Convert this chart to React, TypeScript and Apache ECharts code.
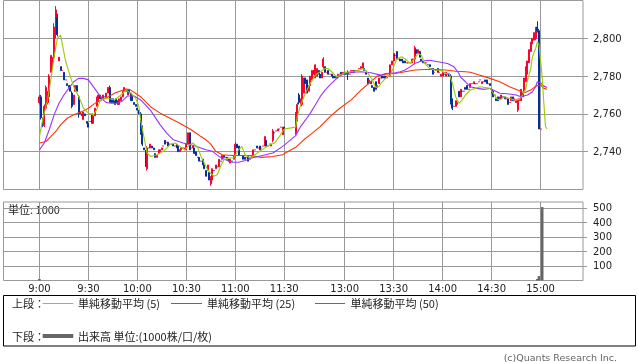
import React, { useEffect, useRef } from "react";
import * as echarts from "echarts";

// ---- axis scaffolding (minute slots; 9:00 = slot 0, 12:30 = slot 157) ----
const SLOT_MIN = -22;
const SLOT_MAX = 333;
const tickSlots = [0, 30, 60, 90, 120, 150, 187, 217, 247, 277, 307];
const tickLabels = ["9:00", "9:30", "10:00", "10:30", "11:00", "11:30", "13:00", "13:30", "14:00", "14:30", "15:00"];
const priceTicks = [2740, 2760, 2780, 2800];
const volumeTicks = [100, 200, 300, 400, 500];

// ---- morning candles, slots 0..150 ----
const amOpen = [
  2766, 2769, 2757, 2754, 2763, 2766, 2769, 2782, 2784, 2790, 2802, 2811, 2788, 2785, 2783, 2782, 2778, 2776, 2775, 2775,
  2771, 2765, 2772, 2775, 2769, 2761, 2760, 2757, 2760, 2756, 2755, 2756, 2760, 2755, 2759, 2764, 2767, 2770, 2769, 2768,
  2769, 2769, 2771, 2774, 2768, 2768, 2767, 2768, 2767, 2765, 2767, 2769, 2772, 2773, 2770, 2773, 2771, 2770, 2766, 2765,
  2763, 2762, 2760, 2753, 2742, 2740, 2731, 2742, 2742, 2743, 2742, 2739, 2737, 2739, 2740, 2741, 2743, 2746, 2745, 2745,
  2744, 2744, 2744, 2743, 2744, 2743, 2740, 2741, 2742, 2741, 2741, 2744, 2750, 2742, 2742, 2742, 2740, 2737, 2737, 2735,
  2736, 2733, 2730, 2730, 2729, 2723, 2725, 2730, 2731, 2732, 2732, 2735, 2736, 2738, 2737, 2737, 2736, 2734, 2735, 2736,
  2738, 2744, 2743, 2738, 2738, 2738, 2737, 2737, 2738, 2736, 2737, 2738, 2741, 2743, 2742, 2743, 2742, 2743, 2743, 2746,
  2743, 2744, 2743, 2746, 2750, 2751, 2751, 2752, 2753, 2749, 2753,
];
const amClose = [
  2769, 2758, 2754, 2764, 2774, 2771, 2780, 2791, 2790, 2806, 2815, 2802, 2790, 2783, 2783, 2778, 2778, 2775, 2774, 2772,
  2764, 2770, 2775, 2772, 2760, 2760, 2759, 2761, 2759, 2755, 2753, 2756, 2755, 2759, 2763, 2769, 2770, 2768, 2768, 2770,
  2769, 2771, 2774, 2767, 2766, 2766, 2765, 2766, 2765, 2768, 2769, 2772, 2774, 2772, 2773, 2771, 2767, 2767, 2765, 2764,
  2762, 2760, 2750, 2744, 2741, 2733, 2742, 2742, 2744, 2742, 2741, 2737, 2738, 2741, 2741, 2742, 2743, 2744, 2745, 2743,
  2744, 2744, 2743, 2743, 2742, 2740, 2741, 2742, 2742, 2742, 2744, 2750, 2741, 2742, 2743, 2739, 2738, 2737, 2735, 2735,
  2733, 2731, 2727, 2733, 2725, 2726, 2731, 2730, 2733, 2732, 2736, 2735, 2738, 2737, 2737, 2736, 2735, 2736, 2735, 2738,
  2744, 2742, 2738, 2738, 2738, 2736, 2736, 2737, 2735, 2736, 2738, 2741, 2741, 2742, 2742, 2741, 2742, 2743, 2748, 2743,
  2743, 2744, 2744, 2751, 2750, 2751, 2752, 2752, 2753, 2753, 2752,
];

// ---- afternoon candles, slots 157..307 ----
const pmOpen = [
  2750, 2757, 2770, 2765, 2765, 2771, 2779, 2778, 2772, 2775, 2778, 2783, 2779, 2780, 2783, 2781, 2779, 2785, 2785, 2782,
  2783, 2781, 2781, 2780, 2780, 2779, 2780, 2781, 2782, 2781, 2782, 2782, 2782, 2781, 2782, 2782, 2783, 2783, 2783, 2784,
  2784, 2784, 2784, 2782, 2779, 2777, 2777, 2775, 2774, 2777, 2774, 2776, 2779, 2780, 2780, 2780, 2779, 2780, 2780, 2786,
  2788, 2791, 2793, 2789, 2789, 2789, 2788, 2788, 2787, 2787, 2787, 2787, 2789, 2789, 2794, 2792, 2793, 2789, 2788, 2787,
  2787, 2786, 2786, 2784, 2784, 2782, 2783, 2784, 2782, 2780, 2780, 2781, 2780, 2781, 2781, 2780, 2768, 2764, 2764, 2765,
  2772, 2769, 2772, 2772, 2774, 2775, 2773, 2774, 2776, 2776, 2776, 2776, 2777, 2778, 2776, 2777, 2778, 2778, 2776, 2776,
  2773, 2772, 2770, 2768, 2769, 2768, 2768, 2769, 2769, 2768, 2768, 2766, 2767, 2769, 2767, 2766, 2762, 2767, 2767, 2771,
  2772, 2777, 2781, 2787, 2793, 2797, 2799, 2800, 2806, 2804, 2752,
];
const pmClose = [
  2760, 2765, 2766, 2768, 2780, 2779, 2776, 2771, 2775, 2780, 2783, 2781, 2786, 2784, 2781, 2779, 2782, 2789, 2782, 2782,
  2781, 2781, 2780, 2779, 2779, 2780, 2781, 2781, 2781, 2782, 2781, 2781, 2781, 2781, 2783, 2783, 2782, 2783, 2783, 2784,
  2785, 2787, 2783, 2781, 2776, 2778, 2776, 2774, 2772, 2773, 2775, 2779, 2779, 2779, 2779, 2779, 2780, 2780, 2786, 2788,
  2792, 2791, 2789, 2789, 2788, 2788, 2787, 2787, 2787, 2787, 2787, 2789, 2789, 2795, 2792, 2794, 2790, 2788, 2787, 2787,
  2787, 2786, 2785, 2784, 2781, 2782, 2783, 2782, 2782, 2781, 2782, 2781, 2782, 2781, 2780, 2766, 2763, 2764, 2767, 2766,
  2769, 2773, 2772, 2772, 2773, 2773, 2773, 2776, 2776, 2777, 2776, 2776, 2777, 2778, 2777, 2777, 2777, 2776, 2776, 2775,
  2771, 2769, 2770, 2767, 2767, 2769, 2770, 2769, 2768, 2768, 2765, 2766, 2769, 2767, 2768, 2767, 2767, 2768, 2773, 2769,
  2779, 2785, 2788, 2794, 2798, 2800, 2803, 2805, 2804, 2752, 2752,
];

// wicks that reach beyond the body: [slot, low, high]
const wicks: [number, number, number][] = [
  [0, 2765, 2770], [1, 2757, 2770], [2, 2753, 2758], [3, 2753, 2765], [4, 2762, 2775], [5, 2765, 2772],
  [6, 2768, 2781], [9, 2789, 2808], [10, 2800, 2817], [11, 2801, 2813], [20, 2763, 2772], [24, 2758, 2770],
  [43, 2766, 2775], [62, 2749, 2761], [63, 2743, 2754], [65, 2732, 2741], [66, 2730, 2743], [105, 2722, 2727],
  [120, 2737, 2745], [143, 2745, 2752], [157, 2749, 2761], [158, 2756, 2766], [159, 2765, 2771], [161, 2764, 2781],
  [174, 2784, 2790], [189, 2778, 2783], [230, 2787, 2796], [252, 2765, 2781], [253, 2762, 2768], [293, 2761, 2768],
  [304, 2799, 2806], [305, 2803, 2809], [306, 2752, 2805],
];

// ---- moving averages (slot, value) ----
const ma5Slots = [0, 2, 4, 5, 7, 9, 11, 13, 14, 16, 19, 21, 23, 25, 27, 30, 33, 35, 37, 39, 43, 46, 50, 53, 56, 59, 61, 62, 64, 66, 68, 72, 76, 80, 83, 86, 89, 92, 94, 97, 99, 101, 103, 105, 107, 109, 111, 113, 116, 119, 122, 124, 126, 129, 132, 135, 138, 141, 144, 147, 150, 157, 158, 160, 163, 166, 169, 172, 175, 177, 179, 182, 184, 187, 190, 195, 198, 200, 202, 204, 206, 208, 210, 213, 215, 217, 219, 222, 225, 227, 229, 232, 234, 236, 239, 242, 246, 249, 251, 253, 255, 257, 259, 261, 264, 267, 270, 273, 276, 278, 280, 282, 285, 288, 291, 294, 296, 298, 299, 301, 302, 304, 305, 306, 308, 309, 310, 311];
const ma5Values = [2748, 2757, 2764, 2767.4, 2778, 2790, 2800, 2801.6, 2797, 2788, 2779.6, 2774.4, 2771, 2767.4, 2763, 2760.4, 2759.5, 2762, 2766.5, 2768, 2768, 2767.4, 2770, 2772.6, 2771, 2768.2, 2763.8, 2756.8, 2748, 2739.3, 2737.5, 2738.4, 2740.2, 2743.7, 2744.6, 2742.8, 2741, 2743.7, 2744.6, 2742.2, 2737.5, 2734, 2730.5, 2728.5, 2727, 2727.9, 2732.3, 2735.8, 2736.7, 2736.7, 2741, 2742.8, 2738.4, 2736.7, 2738.4, 2740.2, 2742, 2743.7, 2744.6, 2748, 2752, 2753, 2758.6, 2764.7, 2770.9, 2776.2, 2780.5, 2782.3, 2784, 2784, 2782.3, 2779.6, 2780.5, 2781.8, 2782.3, 2782.8, 2784, 2783, 2780.5, 2777.9, 2774, 2774.5, 2777, 2779.6, 2780.5, 2784.9, 2789.3, 2790.2, 2788.4, 2786.7, 2788.4, 2792, 2791, 2786.7, 2784, 2783.2, 2783, 2781.4, 2781.4, 2776.2, 2769.1, 2765.6, 2767.4, 2770, 2772.6, 2773.5, 2774.4, 2774, 2773.5, 2771, 2768.2, 2767.4, 2769.1, 2768.2, 2767.4, 2767.7, 2770, 2773.5, 2777.9, 2784, 2790.2, 2794.6, 2798, 2797, 2779.6, 2765.6, 2753.3, 2752];

const ma25Slots = [0, 3, 6, 9, 12, 15, 18, 21, 24, 27, 30, 33, 36, 39, 41, 44, 48, 51, 54, 58, 62, 68, 74, 78, 82, 88, 93, 99, 102, 106, 110, 114, 118, 122, 126, 130, 136, 143, 149, 150, 157, 160, 163, 166, 169, 172, 175, 178, 181, 184, 187, 192, 197, 203, 209, 212, 218, 221, 224, 227, 230, 234, 239, 245, 250, 254, 257, 258, 261, 264, 268, 273, 276, 278, 282, 288, 292, 295, 299, 302, 304, 305, 307, 309, 311];
const ma25Values = [2741, 2744.6, 2751.6, 2759.5, 2765.6, 2770, 2773.5, 2777, 2778.8, 2778.8, 2778, 2774.4, 2770.9, 2767.4, 2766, 2765.6, 2765.6, 2767, 2769.5, 2769.5, 2767.4, 2762, 2754.2, 2749.8, 2746.3, 2744.6, 2743.7, 2742, 2741, 2740.2, 2737.5, 2735.8, 2734.4, 2734.4, 2735.3, 2736.7, 2737.9, 2739.3, 2742.8, 2743.5, 2748.5, 2753.3, 2756.8, 2760.4, 2764.7, 2769.1, 2772.6, 2775.3, 2777.9, 2780, 2781.4, 2782, 2782.3, 2781.8, 2780.5, 2781.4, 2781.8, 2782.3, 2783.2, 2784.9, 2786.7, 2788, 2788.4, 2787.5, 2786.7, 2784.9, 2781.4, 2779.5, 2777, 2774.4, 2773.5, 2773, 2773.5, 2772.6, 2770.9, 2770.5, 2770, 2769.1, 2770, 2771.7, 2774.4, 2777, 2776.5, 2774.7, 2774];

const ma50Slots = [0, 4, 7, 10, 13, 17, 21, 26, 30, 34, 38, 42, 46, 50, 53, 56, 62, 68, 74, 80, 86, 93, 99, 102, 105, 108, 112, 118, 124, 130, 136, 143, 149, 150, 157, 162, 166, 172, 178, 184, 191, 197, 203, 207, 212, 218, 224, 230, 236, 243, 249, 255, 261, 264, 270, 276, 282, 288, 293, 297, 301, 304, 307, 309, 311];
const ma50Values = [2744.6, 2745.4, 2748, 2750.7, 2754.2, 2757.7, 2759.5, 2761.2, 2763, 2765.6, 2767.4, 2769, 2770.9, 2772.3, 2773.2, 2772.6, 2769.1, 2763.8, 2760.4, 2757.7, 2755, 2751.6, 2748, 2746.3, 2744, 2740.2, 2738.4, 2738, 2738, 2737.9, 2737, 2737.5, 2738.4, 2739, 2742.3, 2746.3, 2749, 2753.3, 2758.6, 2763, 2767.4, 2772.6, 2777, 2780, 2781, 2781.4, 2782.3, 2783.2, 2783.5, 2783.5, 2783.2, 2782.6, 2782.3, 2782, 2780.5, 2778.8, 2777, 2774.4, 2772.6, 2771.2, 2772.6, 2774.7, 2775.3, 2773.5, 2773];

// ---- volume (1000 shares), visible bars only ----
const volSlots = [0, 305, 306, 308];
const volValues = [10, 10, 30, 505];

const RED = "#ff0033";
const BLUE = "#003399";
const GREEN = "#99cc00";
const PURPLE = "#9933ff";
const ORANGE = "#ff3300";
const GRID = "#999999";
const VOL = "#666666";

export default function App() {
  const ref = useRef<HTMLDivElement>(null);

  useEffect(() => {
    if (!ref.current) return;
    const chart = echarts.init(ref.current, undefined, { renderer: "svg" });

    const N = SLOT_MAX - SLOT_MIN + 1;
    const idx = (s: number) => s - SLOT_MIN;
    const categories = Array.from({ length: N }, (_, k) => String(k + SLOT_MIN));
    const tickIdx = new Set(tickSlots.map(idx));
    const labelMap = new Map<number, string>();
    tickSlots.forEach((s, i) => labelMap.set(s, tickLabels[i]));

    const candleData: any[] = new Array(N).fill("-");
    const put = (start: number, opens: number[], closes: number[]) => {
      opens.forEach((o, i) => {
        const c = closes[i];
        candleData[idx(start + i)] = [o, c, Math.min(o, c), Math.max(o, c)];
      });
    };
    put(0, amOpen, amClose);
    put(157, pmOpen, pmClose);
    wicks.forEach(([s, lo, hi]) => {
      const d = candleData[idx(s)];
      if (Array.isArray(d)) {
        d[2] = lo;
        d[3] = hi;
      }
    });

    const lineData = (slots: number[], values: number[]) => {
      const arr: (number | null)[] = new Array(N).fill(null);
      slots.forEach((s, i) => (arr[idx(s)] = values[i]));
      return arr;
    };

    const volData: any[] = new Array(N).fill("-");
    volSlots.forEach((s, i) => (volData[idx(s)] = volValues[i]));

    const labelStyle = { fontSize: 10, color: "#222", fontFamily: "DejaVu Sans" };
    const cjk = "Noto Sans CJK JP";

    const mkX = (gridIndex: number, showLabel: boolean) => ({
      type: "category",
      gridIndex,
      data: categories,
      boundaryGap: false,
      axisLine: { show: false },
      axisTick: { show: false },
      axisLabel: showLabel
        ? {
            show: true,
            interval: (i: number) => tickIdx.has(i),
            formatter: (v: string) => labelMap.get(Number(v)) ?? "",
            margin: 3,
            ...labelStyle,
          }
        : { show: false },
      splitLine: {
        show: true,
        interval: (i: number) => tickIdx.has(i),
        lineStyle: { color: GRID, width: 1 },
      },
    });

    const legendText = (x: number, y: number, text: string) => ({
      type: "text",
      x,
      y,
      style: { text, fontSize: 11, fontFamily: cjk, fill: "#222", verticalAlign: "middle" },
    });
    const legendLine = (x1: number, x2: number, y: number, color: string, w: number) => ({
      type: "line",
      shape: { x1, y1: y, x2, y2: y },
      style: { stroke: color, lineWidth: w },
    });

    chart.setOption({
      animation: false,
      textStyle: { fontFamily: "DejaVu Sans" },
      grid: [
        { left: 3.5, right: 55, top: 0.5, height: 189, show: true, borderColor: GRID, borderWidth: 1 },
        { left: 3.5, right: 55, top: 202, height: 78.5, show: true, borderColor: GRID, borderWidth: 1 },
      ],
      xAxis: [mkX(0, false), mkX(1, true)],
      yAxis: [
        {
          type: "value",
          gridIndex: 0,
          position: "right",
          min: 2720,
          max: 2820,
          interval: 20,
          axisLine: { show: false },
          axisTick: { show: true, length: 5, lineStyle: { color: GRID }, customValues: priceTicks },
          axisLabel: {
            customValues: priceTicks,
            formatter: (v: number) => v.toLocaleString("en-US"),
            margin: 10,
            ...labelStyle,
          },
          splitLine: { show: true, lineStyle: { color: GRID, width: 1 } },
        },
        {
          type: "value",
          gridIndex: 1,
          position: "right",
          min: 0,
          max: 540,
          interval: 100,
          axisLine: { show: false },
          axisTick: { show: true, length: 4, lineStyle: { color: GRID }, customValues: volumeTicks },
          axisLabel: { customValues: volumeTicks, margin: 10, ...labelStyle },
          splitLine: { show: true, lineStyle: { color: GRID, width: 1 } },
        },
      ],
      series: [
        {
          type: "candlestick",
          xAxisIndex: 0,
          yAxisIndex: 0,
          data: candleData,
          barWidth: 1.5,
          itemStyle: { color: RED, color0: BLUE, borderColor: RED, borderColor0: BLUE, borderWidth: 1 },
          z: 2,
        },
        {
          type: "line",
          xAxisIndex: 0,
          yAxisIndex: 0,
          data: lineData(ma50Slots, ma50Values),
          connectNulls: true,
          symbol: "none",
          lineStyle: { color: ORANGE, width: 1.1 },
          z: 3,
        },
        {
          type: "line",
          xAxisIndex: 0,
          yAxisIndex: 0,
          data: lineData(ma25Slots, ma25Values),
          connectNulls: true,
          symbol: "none",
          lineStyle: { color: PURPLE, width: 1.1 },
          z: 4,
        },
        {
          type: "line",
          xAxisIndex: 0,
          yAxisIndex: 0,
          data: lineData(ma5Slots, ma5Values),
          connectNulls: true,
          symbol: "none",
          lineStyle: { color: GREEN, width: 1.1 },
          z: 5,
        },
        {
          type: "bar",
          xAxisIndex: 1,
          yAxisIndex: 1,
          data: volData,
          barWidth: 2.6,
          itemStyle: { color: VOL },
        },
      ],
      graphic: [
        {
          type: "text",
          x: 8,
          y: 209,
          style: { text: "単位: 1000", fontSize: 11, fontFamily: cjk, fill: "#222", verticalAlign: "middle" },
        },
        {
          type: "rect",
          shape: { x: 3.5, y: 295.5, width: 632, height: 50.5 },
          style: { fill: "#fff", stroke: "#000", lineWidth: 1 },
        },
        legendText(12, 303, "上段："),
        legendLine(42.7, 73.3, 303.5, GREEN, 1),
        legendText(78, 303, "単純移動平均 (5)"),
        legendLine(171, 202, 303.5, PURPLE, 1),
        legendText(207, 303, "単純移動平均 (25)"),
        legendLine(315, 345, 303.5, ORANGE, 1),
        legendText(350.5, 303, "単純移動平均 (50)"),
        legendText(12, 336, "下段："),
        legendLine(42.7, 73.3, 336, VOL, 4),
        legendText(78, 336, "出来高 単位:(1000株/口/枚)"),
        {
          type: "text",
          x: 617,
          y: 357.5,
          style: {
            text: "(c)Quants Research Inc.",
            fontSize: 9.5,
            fontFamily: "DejaVu Sans",
            fill: "#666",
            align: "right",
            verticalAlign: "middle",
          },
        },
      ],
    });

    return () => chart.dispose();
  }, []);

  return <div ref={ref} style={{ position: "fixed", left: 0, top: 0, width: 638, height: 362 }} />;
}
